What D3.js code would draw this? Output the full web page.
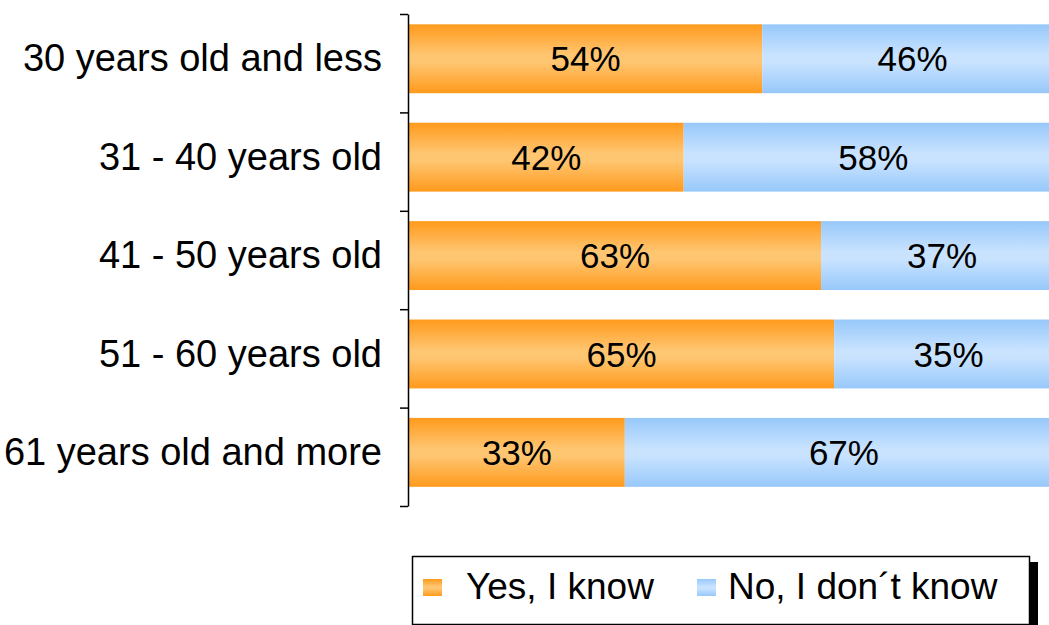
<!DOCTYPE html>
<html>
<head>
<meta charset="utf-8">
<script src="https://cdn.jsdelivr.net/npm/d3@7"></script>
<style>
  html, body { margin: 0; padding: 0; background: #ffffff; }
  svg { display: block; }
  text { font-family: "Liberation Sans", Arial, sans-serif; fill: #000; }
</style>
</head>
<body>
<svg id="chart" width="1049" height="625"></svg>
<script>
const categories = ["30 years old and less", "31 - 40 years old", "41 - 50 years old", "51 - 60 years old", "61 years old and more"];
const seriesNames = ["Yes, I know", "No, I don\u00B4t know"];
const yesValues = [54, 42, 63, 65, 33];
const noValues = [46, 58, 37, 35, 67];

const svg = d3.select("#chart");

const defs = svg.append("defs");
function grad(id, edge, mid) {
  const g = defs.append("linearGradient").attr("id", id)
    .attr("x1", 0).attr("y1", 0).attr("x2", 0).attr("y2", 1);
  g.append("stop").attr("offset", "0%").attr("stop-color", edge);
  g.append("stop").attr("offset", "45%").attr("stop-color", mid);
  g.append("stop").attr("offset", "55%").attr("stop-color", mid);
  g.append("stop").attr("offset", "100%").attr("stop-color", edge);
}
grad("gOrange", "#ff9a1c", "#ffc672");
grad("gBlue", "#97c8fa", "#c9e3ff");
const fills = ["url(#gOrange)", "url(#gBlue)"];

const plotLeft = 409, plotTop = 14, plotBottom = 506;
const x = d3.scaleLinear().domain([0, 100]).range([plotLeft, plotLeft + 654]);
const y = d3.scaleBand().domain(categories).range([plotTop, plotBottom])
  .paddingInner(0.3).paddingOuter(0.15).align(0.35);

const data = categories.map((c, i) => ({ cat: c, vals: [yesValues[i], noValues[i]] }));
const stacked = [];
data.forEach(d => {
  let acc = 0;
  d.vals.forEach((v, k) => {
    stacked.push({ cat: d.cat, k, x0: acc, x1: acc + v, v });
    acc += v;
  });
});

const gBars = svg.append("g");
gBars.selectAll("rect").data(stacked).join("rect")
  .attr("x", d => x(d.x0))
  .attr("width", d => x(d.x1) - x(d.x0))
  .attr("y", d => y(d.cat))
  .attr("height", y.bandwidth())
  .attr("fill", d => fills[d.k]);

gBars.selectAll("text").data(stacked).join("text")
  .attr("x", d => (x(d.x0) + x(d.x1)) / 2)
  .attr("y", d => y(d.cat) + y.bandwidth() / 2)
  .attr("dy", "0.36em")
  .attr("text-anchor", "middle")
  .style("font-size", "35px")
  .text(d => d.v + "%");

// axis with ticks at category boundaries
const yAxisScale = d3.scaleLinear().domain([0, categories.length]).range([plotTop, plotBottom]);
const axis = svg.append("g").attr("transform", `translate(${plotLeft - 1},0)`)
  .call(d3.axisLeft(yAxisScale).tickValues(d3.range(0, categories.length + 1))
    .tickFormat("").tickSize(8).tickSizeOuter(0));
axis.select(".domain").attr("stroke", "#000").attr("stroke-width", 1.5);
axis.selectAll(".tick line").attr("stroke", "#000").attr("stroke-width", 1.5);

// category labels
svg.append("g").selectAll("text").data(categories).join("text")
  .attr("x", 382)
  .attr("y", d => y(d) + y.bandwidth() / 2)
  .attr("dy", "0.33em")
  .attr("text-anchor", "end")
  .style("font-size", "38px")
  .text(d => d);

// legend
const lg = svg.append("g");
lg.append("rect").attr("x", 1030).attr("y", 562).attr("width", 8).attr("height", 70).attr("fill", "#000");
lg.append("rect").attr("x", 412.5).attr("y", 556.5).attr("width", 617).attr("height", 68)
  .attr("fill", "#fff").attr("stroke", "#000").attr("stroke-width", 1.5);
const legendItems = [
  { name: seriesNames[0], sx: 423, tx: 466 },
  { name: seriesNames[1], sx: 697, tx: 728 }
];
legendItems.forEach((it, k) => {
  lg.append("rect").attr("x", it.sx).attr("y", 579).attr("width", 19).attr("height", 17)
    .attr("fill", fills[k]);
  lg.append("text").attr("x", it.tx).attr("y", 599).style("font-size", "37px").text(it.name);
});
</script>
</body>
</html>
